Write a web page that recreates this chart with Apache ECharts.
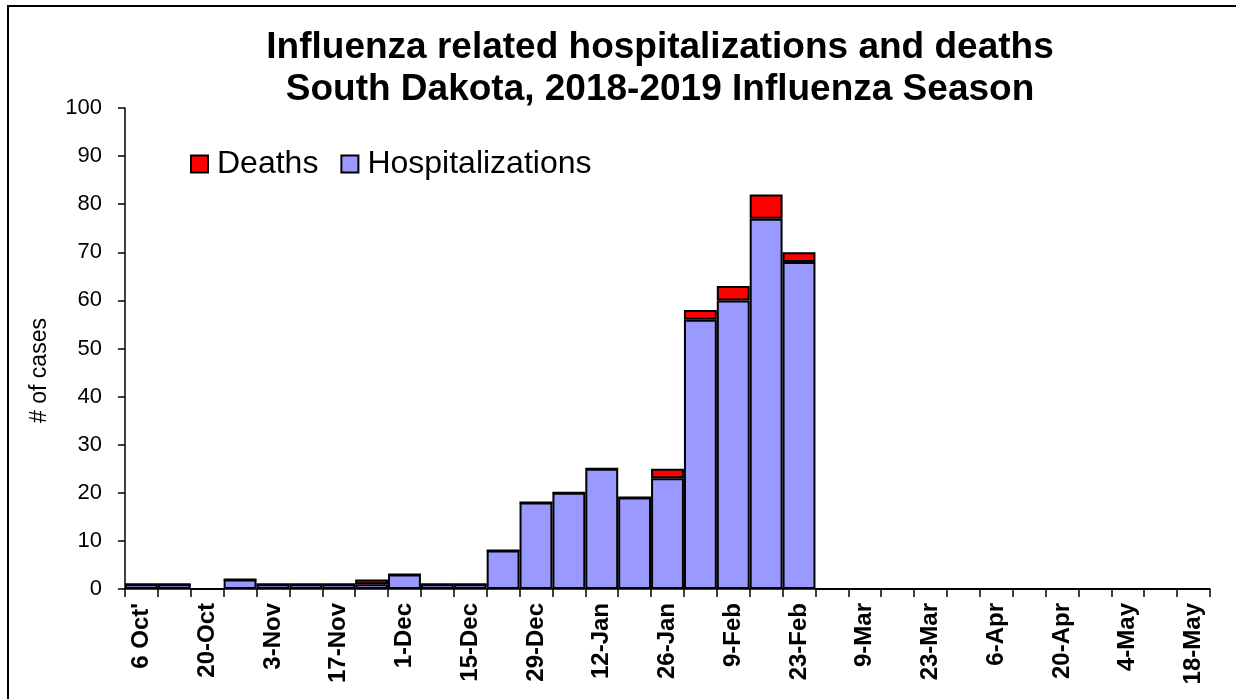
<!DOCTYPE html>
<html>
<head>
<meta charset="utf-8">
<script src="https://cdn.jsdelivr.net/npm/echarts@6/dist/echarts.min.js"></script>
<style>
  html, body { margin: 0; padding: 0; background: #fff; }
  #chart { width: 1236px; height: 699px; }
</style>
</head>
<body>
<div id="chart"></div>
<script>
// week starting dates (labels shown on every other week)
const weeks = ["6 Oct'", '13-Oct', '20-Oct', '27-Oct', '3-Nov', '10-Nov', '17-Nov', '24-Nov',
  '1-Dec', '8-Dec', '15-Dec', '22-Dec', '29-Dec', '5-Jan', '12-Jan', '19-Jan', '26-Jan',
  '2-Feb', '9-Feb', '16-Feb', '23-Feb', '2-Mar', '9-Mar', '16-Mar', '23-Mar', '30-Mar',
  '6-Apr', '13-Apr', '20-Apr', '27-Apr', '4-May', '11-May', '18-May'];

const hospitalizations = [1, 1, 0, 2, 1, 1, 1, 1, 3, 1, 1, 8, 18, 20, 25, 19, 23, 56, 60, 77, 68,
  0, 0, 0, 0, 0, 0, 0, 0, 0, 0, 0, 0];
const deaths = [0, 0, 0, 0, 0, 0, 0, 1, 0, 0, 0, 0, 0, 0, 0, 0, 2, 2, 3, 5, 2,
  0, 0, 0, 0, 0, 0, 0, 0, 0, 0, 0, 0];

const titleLines = ['Influenza related hospitalizations and deaths', 'South Dakota, 2018-2019 Influenza Season'];

const font = "'Liberation Sans', Arial, sans-serif";

let chart = echarts.init(document.getElementById('chart'));

let option = {
  backgroundColor: '#fff',
  animation: false,
  title: {
    text: titleLines.join('\n'),
    left: 655,
    top: 22,
    textAlign: 'center',
    textStyle: {
      fontFamily: font,
      fontWeight: 'bold',
      fontSize: 37,
      lineHeight: 42,
      color: '#000'
    }
  },
  legend: {
    data: ['Deaths', 'Hospitalizations'],
    left: 185,
    top: 143,
    icon: 'rect',
    itemWidth: 17,
    itemHeight: 17,
    itemGap: 22,
    itemStyle: { borderColor: '#000', borderWidth: 2 },
    textStyle: { fontFamily: font, fontSize: 32, color: '#000', padding: [0, 0, 0, 4] }
  },
  graphic: [{
    type: 'rect',
    shape: { x: 8, y: 6, width: 1400, height: 900 },
    style: { fill: 'none', stroke: '#000', lineWidth: 2 },
    silent: true
  }],
  grid: { left: 125, right: 26, top: 108, bottom: 110 },
  xAxis: {
    type: 'category',
    data: weeks,
    boundaryGap: true,
    axisLine: { lineStyle: { color: '#000', width: 1.5 } },
    axisTick: { show: true, interval: 0, length: 8, lineStyle: { color: '#000', width: 1.5 } },
    axisLabel: {
      interval: 1,
      rotate: 90,
      margin: 14,
      fontFamily: font,
      fontWeight: 'bold',
      fontSize: 24,
      color: '#000'
    },
    splitLine: { show: false }
  },
  yAxis: {
    type: 'value',
    min: 0,
    max: 100,
    interval: 10,
    name: '# of cases',
    nameLocation: 'middle',
    nameGap: 74,
    nameTextStyle: { fontFamily: font, fontSize: 23, color: '#000', padding: [0, 44, 0, 0] },
    axisLine: { show: true, lineStyle: { color: '#000', width: 1.5 } },
    axisTick: { show: true, length: 7, lineStyle: { color: '#000', width: 1.5 } },
    axisLabel: { fontFamily: font, fontSize: 22, color: '#000', margin: 23 },
    splitLine: { show: false }
  },
  series: [
    {
      name: 'Hospitalizations',
      type: 'bar',
      stack: 'cases',
      data: hospitalizations,
      barCategoryGap: 0,
      itemStyle: { color: '#9999ff', borderColor: '#000', borderWidth: 2 }
    },
    {
      name: 'Deaths',
      type: 'bar',
      stack: 'cases',
      data: deaths,
      barCategoryGap: 0,
      itemStyle: { color: '#ff0000', borderColor: '#000', borderWidth: 2 }
    }
  ]
};

chart.setOption(option);
</script>
</body>
</html>
